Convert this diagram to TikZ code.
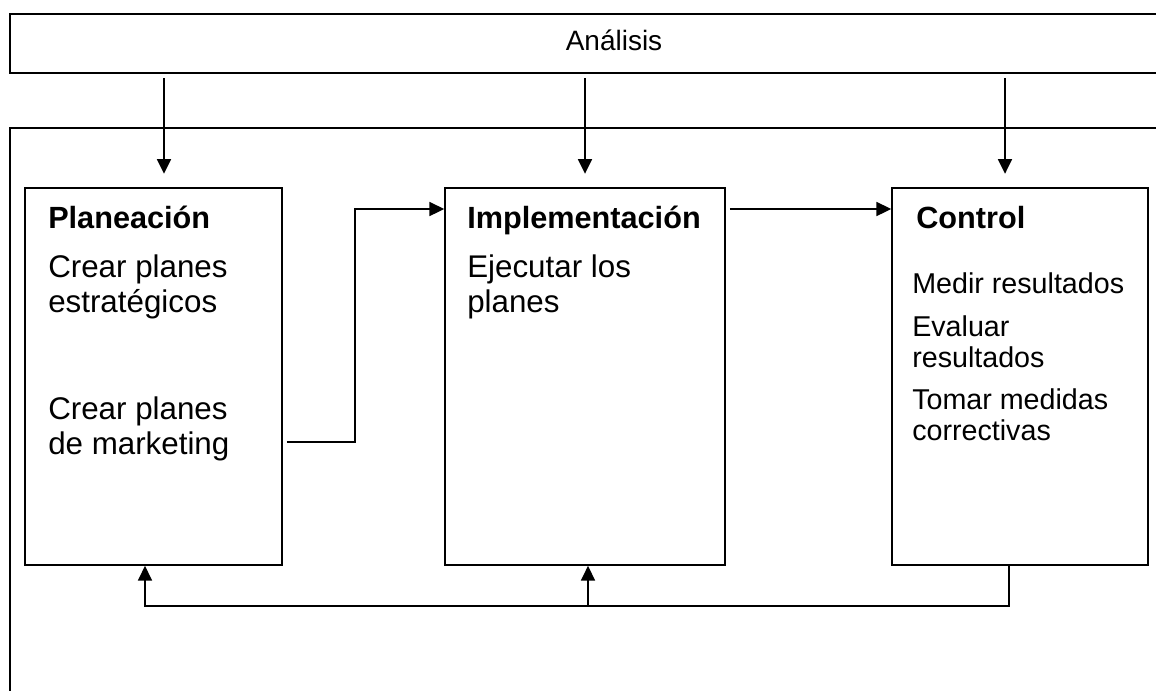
\documentclass[tikz,border=0pt]{standalone}
\usepackage{fontspec}
\setmainfont{Liberation Sans}
\usetikzlibrary{arrows.meta,fit}
\begin{document}
\begin{tikzpicture}[x=0.75pt,y=-0.75pt,
  frame/.style={draw,line width=1.6pt,inner sep=0pt},
  box/.style={draw,line width=1.3pt,inner sep=0pt},
  link/.style={line width=1.3pt},
  arr/.style={link,-{Triangle[length=11pt,width=10.5pt]}},
  ttl/.style={anchor=base west,inner sep=0pt,font=\fontsize{23}{27}\selectfont\bfseries},
  txt/.style={anchor=base west,inner sep=0pt,font=\fontsize{23.5}{27}\selectfont},
  sml/.style={anchor=base west,inner sep=0pt,font=\fontsize{21.5}{25}\selectfont}]
\clip (0,0) rectangle (1156,690);
\fill[white] (0,0) rectangle (1156,690);

% outer frames (they run past the right and lower edges)
\coordinate (t1) at (10,14);  \coordinate (t2) at (1190,73);
\node[frame,fit=(t1)(t2)] (top) {};
\coordinate (o1) at (10,128); \coordinate (o2) at (1190,730);
\node[frame,fit=(o1)(o2)] (outer) {};
\node[anchor=base,inner sep=0pt,font=\fontsize{21}{25}\selectfont] (anal) at (614,50) {Análisis};

% the three stages
\coordinate (p1) at (25,188);  \coordinate (p2) at (282,565);
\node[box,fit=(p1)(p2)] (plan) {};
\coordinate (i1) at (445,188); \coordinate (i2) at (725,565);
\node[box,fit=(i1)(i2)] (impl) {};
\coordinate (c1) at (892,188); \coordinate (c2) at (1148,565);
\node[box,fit=(c1)(c2)] (ctrl) {};

% texts
\node[ttl] (planT) at (48,228) {Planeación};
\node[txt] (planA) at (48,277) {Crear planes};
\node[txt] (planB) at (48,312) {estratégicos};
\node[txt] (planC) at (48,419) {Crear planes};
\node[txt] (planD) at (48,454) {de marketing};

\node[ttl] (implT) at (467,228) {Implementación};
\node[txt] (implA) at (467,277) {Ejecutar los};
\node[txt] (implB) at (467,312) {planes};

\node[ttl] (ctrlT) at (916,228) {Control};
\node[sml] (ctrlA) at (912,293) {Medir resultados};
\node[sml] (ctrlB) at (912,336) {Evaluar};
\node[sml] (ctrlC) at (912,367) {resultados};
\node[sml] (ctrlD) at (912,409) {Tomar medidas};
\node[sml] (ctrlE) at (912,440) {correctivas};

% columns of the connectors
\coordinate (xa) at (164,0);
\coordinate (xb) at (585,0);
\coordinate (xc) at (1005,0);
\coordinate (xs) at (355,0);
\coordinate (xl) at (145,0);
\coordinate (xm) at (588,0);
\coordinate (xr) at (1009,0);
\coordinate (ys) at (0,442);
\coordinate (yr) at (0,209);
\coordinate (yf) at (0,606);

% from the analysis into each stage
\draw[arr] ([yshift=-3pt]top.south -| xa) -- ([yshift=10pt]plan.north -| xa);
\draw[arr] ([yshift=-3pt]top.south -| xb) -- ([yshift=10pt]impl.north -| xb);
\draw[arr] ([yshift=-3pt]top.south -| xc) -- ([yshift=10pt]ctrl.north -| xc);

% forward flow
\draw[arr] ([xshift=3pt]plan.east |- ys) -- (xs |- ys) -- (xs |- yr) -- (impl.west |- yr);
\draw[arr] ([xshift=3pt]impl.east |- yr) -- (ctrl.west |- yr);

% feedback
\draw[arr] (ctrl.south -| xr) -- (xr |- yf) -- (xl |- yf) -- (plan.south -| xl);
\draw[arr] (xm |- yf) -- (impl.south -| xm);
\end{tikzpicture}
\end{document}
